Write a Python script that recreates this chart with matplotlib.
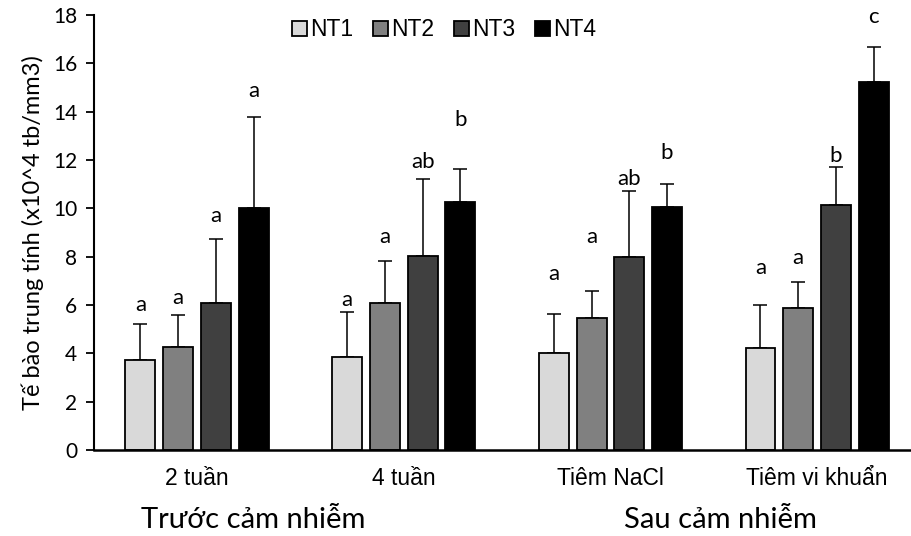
import matplotlib
matplotlib.use("Agg")
import matplotlib.pyplot as plt
import numpy as np

categories = ["2 tuần", "4 tuần", "Tiêm NaCl", "Tiêm vi khuẩn"]
series = ["NT1", "NT2", "NT3", "NT4"]
means = {
    "NT1": [3.72, 3.83, 4.03, 4.21],
    "NT2": [4.27, 6.10, 5.45, 5.86],
    "NT3": [6.10, 8.04, 7.97, 10.14],
    "NT4": [10.00, 10.27, 10.07, 15.24],
}
errs = {
    "NT1": [1.48, 1.87, 1.60, 1.79],
    "NT2": [1.33, 1.72, 1.14, 1.08],
    "NT3": [2.63, 3.18, 2.76, 1.58],
    "NT4": [3.78, 1.34, 0.95, 1.42],
}
letters = {
    "NT1": ["a", "a", "a", "a"],
    "NT2": ["a", "a", "a", "a"],
    "NT3": ["a", "ab", "ab", "b"],
    "NT4": ["a", "b", "b", "c"],
}
letter_y = {
    "NT1": [6.0, 6.2, 7.3, 7.55],
    "NT2": [6.3, 8.8, 8.8, 7.95],
    "NT3": [9.7, 11.9, 11.2, 12.15],
    "NT4": [14.85, 13.65, 12.3, 17.9],
}
colors = ["#d9d9d9", "#808080", "#404040", "#000000"]
group_labels = ["Trước cảm nhiễm", "Sau cảm nhiễm"]
ylabel = "Tế bào trung tính (x10^4 tb/mm3)"

fig = plt.figure(figsize=(9.12, 5.36), dpi=100)
ax = fig.add_axes([93.7/912, 1-450/536, 826.7/912, 435/536])

x = np.arange(len(categories))
width = 0.145
step = 0.1825
for i, s in enumerate(series):
    xs = x + (i - 1.5) * step
    m = np.array(means[s]); e = np.array(errs[s])
    ax.bar(xs, m, width=width, color=colors[i], edgecolor="black", linewidth=1.3,
           label=s, zorder=2)
    ax.errorbar(xs, m, yerr=[np.zeros_like(e), e], fmt="none", ecolor="black",
                elinewidth=1.1, capsize=5, capthick=1.1, zorder=1)
    for xi, ly, t in zip(xs, letter_y[s], letters[s]):
        ax.text(xi, ly, t, ha="center", va="center", fontsize=16, family="Lato")

ax.set_xlim(-0.5, 3.5)
ax.set_ylim(0, 18)
ax.set_yticks(np.arange(0, 19, 2))
ax.set_xticks(x)
ax.set_xticklabels(categories, fontsize=16.5, family="Liberation Sans")
ax.tick_params(axis="x", length=0, pad=12)
ax.tick_params(axis="y", length=6, width=1.3, labelsize=15, pad=6)
for lab in ax.get_yticklabels():
    lab.set_family("Lato")
ax.spines["top"].set_visible(False)
ax.spines["right"].set_visible(False)
ax.spines["left"].set_linewidth(1.5)
ax.spines["bottom"].set_linewidth(1.8)
ax.set_ylabel(ylabel, fontsize=17, family="Lato", labelpad=6)

fig.text(253/912, 1-520/536, group_labels[0], ha="center", va="center", fontsize=21, family="Lato")
fig.text(720/912, 1-520/536, group_labels[1], ha="center", va="center", fontsize=21, family="Lato")

leg = fig.legend(loc="center", bbox_to_anchor=(444/912, 1-30/536), ncol=4, frameon=False,
                 prop={"family": "Liberation Sans", "size": 16.5}, handlelength=0.65,
                 handleheight=0.65, handletextpad=0.15, columnspacing=0.85)

fig.savefig("out.png", dpi=100)
